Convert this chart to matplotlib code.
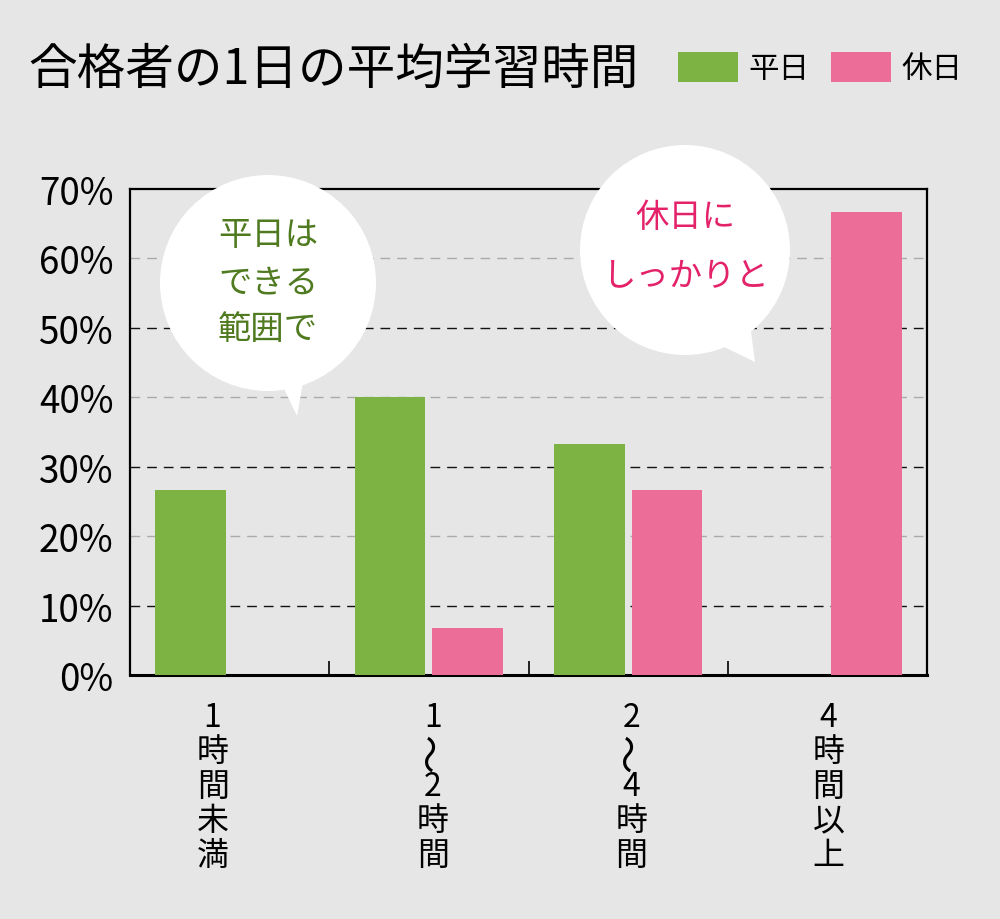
import matplotlib
matplotlib.use("Agg")
import matplotlib.pyplot as plt
from matplotlib.patches import Ellipse, Polygon
import numpy as np

plt.rcParams['font.family'] = ['Noto Sans CJK JP', 'DejaVu Sans']

# ---- data ----
categories = [["1", "時", "間", "未", "満"],
              ["1", "〜", "2", "時", "間"],
              ["2", "〜", "4", "時", "間"],
              ["4", "時", "間", "以", "上"]]
weekday = [26.7, 40.0, 33.3, 0.0]
holiday = [0.0, 6.7, 26.7, 66.7]
series_names = ["平日", "休日"]
yticks = [0, 10, 20, 30, 40, 50, 60, 70]
ytick_labels = [f"{v}%" for v in yticks]
title = "合格者の1日の平均学習時間"
bubble1_lines = ["平日は", "できる", "範囲で"]
bubble2_lines = ["休日に", "しっかりと"]

GREEN = "#7db343"
PINK = "#ec6d98"
BG = "#e6e6e6"
W, H = 1000, 920

def fx(x):
    return x / W

def fy(y):
    return (H - y) / H

fig = plt.figure(figsize=(10, 9.2), dpi=100, facecolor=BG)
ax = fig.add_axes([fx(130), fy(676), (927 - 130) / W, (676 - 190) / H])
ax.set_facecolor(BG)

x = np.arange(len(categories))
bw = 0.356
off = 0.195
ax.bar(x - off, weekday, width=bw, color=GREEN, label=series_names[0], zorder=3)
ax.bar(x + off, holiday, width=bw, color=PINK, label=series_names[1], zorder=3)

ax.set_xlim(-0.5, 3.5)
ax.set_ylim(0, 70)
ax.set_yticks(yticks)
ax.set_yticklabels(ytick_labels, fontsize=26.5)
ax.tick_params(axis='y', length=0, pad=12)

# gridlines
for v in yticks[1:-1]:
    col = "#111111" if v % 20 == 10 else "#aaaaaa"
    ax.axhline(v, color=col, lw=1.0, ls=(0, (7, 5)), zorder=1)

# x ticks at category boundaries
ax.set_xticks([])
ax.set_xticks([0.5, 1.5, 2.5], minor=True)
ax.tick_params(axis='x', which='minor', direction='in', length=10, width=1.2, color='black')

for s in ax.spines.values():
    s.set_linewidth(1.6)
    s.set_color('black')
ax.spines['bottom'].set_linewidth(2.2)

# x labels (stacked vertical characters)
label_dx = [-17, 4, 3, 1]
pitch = 34.5
for i, chars in enumerate(categories):
    for j, ch in enumerate(chars):
        wave = ch == "〜"
        ax.annotate(ch, xy=(x[i], 0), xycoords=('data', 'axes fraction'),
                    xytext=(label_dx[i], -(42 + j * pitch)), textcoords='offset pixels',
                    ha='center', va='center', fontsize=28 if wave else 23,
                    rotation=90 if wave else 0,
                    annotation_clip=False)

# title
fig.text(fx(28), fy(70), title, fontsize=35, ha='left', va='center')

# legend
fs = 22
px = fs * 100 / 72
fig.legend(loc='center left', bbox_to_anchor=(fx(678), fy(69)), ncol=2, frameon=False,
           fontsize=fs, handlelength=60 / px, handleheight=34 / px,
           handletextpad=10 / px, columnspacing=22 / px, borderpad=0, borderaxespad=0)

# speech bubbles
def bubble(cx, cy, r, tail, lines, ys, color):
    e = Ellipse((fx(cx), fy(cy)), 2 * r / W, 2 * r / H, facecolor='white',
                edgecolor='none', transform=fig.transFigure, zorder=5)
    fig.add_artist(e)
    p = Polygon([(fx(a), fy(b)) for a, b in tail], closed=True, facecolor='white',
                edgecolor='none', transform=fig.transFigure, zorder=5)
    fig.add_artist(p)
    for line, yy in zip(lines, ys):
        t = fig.text(fx(cx), fy(yy), line, fontsize=24, color=color, ha='center', va='center')
        t.set_zorder(6)

bubble(268, 284, 108, [(277, 375), (304, 378), (297, 417)],
       bubble1_lines, [236, 283, 329], "#4f7a1f")
bubble(685, 251, 105, [(718, 345), (750, 325), (755, 363)],
       bubble2_lines, [217, 277], "#e4226a")

fig.savefig("out.png", dpi=100, facecolor=BG)
